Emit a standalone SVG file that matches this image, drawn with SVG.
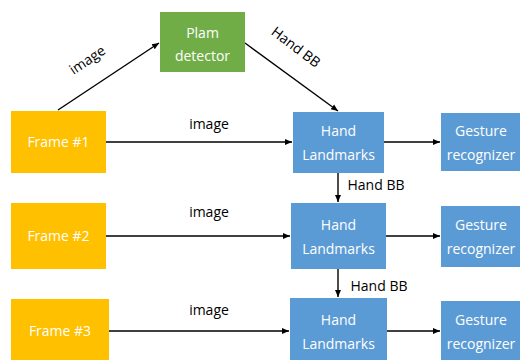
<svg xmlns="http://www.w3.org/2000/svg" width="520" height="360" viewBox="0 0 520 360">
  <defs>
    <marker id="arrow" markerWidth="8" markerHeight="8" refX="7" refY="4" orient="auto" markerUnits="userSpaceOnUse">
      <path d="M0,1 L7,4 L0,7 Z" fill="#000"/>
    </marker>
    <style>
      .frame { fill: #FFC000; }
      .plam { fill: #70AD47; }
      .blue { fill: #5B9BD5; }
      .box-text { font-family: "Open Sans", "Noto Sans", sans-serif; font-size: 14px; fill: #FFFFFF; text-anchor: middle; }
      .label { font-family: "Open Sans", "Noto Sans", sans-serif; font-size: 14px; fill: #000000; text-anchor: middle; }
      .edge { stroke: #000; stroke-width: 1.4; fill: none; marker-end: url(#arrow); }
    </style>
  </defs>
  <rect width="520" height="360" fill="#FFFFFF"/>

  <!-- connectors -->
  <g id="connectors">
    <line class="edge" x1="58" y1="110" x2="159" y2="43"/>
    <line class="edge" x1="245" y1="43" x2="338" y2="111"/>
    <line class="edge" x1="106" y1="142" x2="292" y2="142"/>
    <line class="edge" x1="384" y1="142" x2="440" y2="142"/>
    <line class="edge" x1="338" y1="173" x2="338" y2="202"/>
    <line class="edge" x1="106" y1="236" x2="290" y2="236"/>
    <line class="edge" x1="386" y1="236" x2="440" y2="236"/>
    <line class="edge" x1="338" y1="269" x2="338" y2="297"/>
    <line class="edge" x1="109" y1="331" x2="289" y2="331"/>
    <line class="edge" x1="387" y1="331" x2="440" y2="331"/>

    <text class="label" transform="translate(90,64) rotate(-34)">image</text>
    <text class="label" transform="translate(293,51) rotate(37)">Hand BB</text>
    <text class="label" x="209" y="129">image</text>
    <text class="label" x="209" y="217">image</text>
    <text class="label" x="209" y="315">image</text>
    <text class="label" x="376" y="190">Hand BB</text>
    <text class="label" x="379" y="291">Hand BB</text>
  </g>

  <!-- nodes -->
  <g id="plam-detector">
    <rect class="plam" x="160" y="12" width="85" height="60"/>
    <text class="box-text" x="202.5" y="38">Plam</text>
    <text class="box-text" x="202.5" y="61">detector</text>
  </g>

  <g id="frame-1">
    <rect class="frame" x="11" y="111" width="95" height="62"/>
    <text class="box-text" x="58.5" y="147">Frame #1</text>
  </g>
  <g id="frame-2">
    <rect class="frame" x="11" y="203" width="95" height="66"/>
    <text class="box-text" x="58.5" y="241">Frame #2</text>
  </g>
  <g id="frame-3">
    <rect class="frame" x="11" y="299" width="98" height="61"/>
    <text class="box-text" x="60" y="336">Frame #3</text>
  </g>

  <g id="hand-landmarks-1">
    <rect class="blue" x="293" y="112" width="91" height="61"/>
    <text class="box-text" x="338.5" y="136">Hand</text>
    <text class="box-text" x="338.5" y="160">Landmarks</text>
  </g>
  <g id="hand-landmarks-2">
    <rect class="blue" x="291" y="203" width="95" height="66"/>
    <text class="box-text" x="338.5" y="230">Hand</text>
    <text class="box-text" x="338.5" y="254">Landmarks</text>
  </g>
  <g id="hand-landmarks-3">
    <rect class="blue" x="290" y="298" width="97" height="62"/>
    <text class="box-text" x="338.5" y="325">Hand</text>
    <text class="box-text" x="338.5" y="349">Landmarks</text>
  </g>

  <g id="gesture-recognizer-1">
    <rect class="blue" x="441" y="113" width="79" height="58"/>
    <text class="box-text" x="481" y="136">Gesture</text>
    <text class="box-text" x="481" y="160">recognizer</text>
  </g>
  <g id="gesture-recognizer-2">
    <rect class="blue" x="441" y="206" width="79" height="61"/>
    <text class="box-text" x="481" y="230">Gesture</text>
    <text class="box-text" x="481" y="254">recognizer</text>
  </g>
  <g id="gesture-recognizer-3">
    <rect class="blue" x="441" y="301" width="79" height="59"/>
    <text class="box-text" x="481" y="325">Gesture</text>
    <text class="box-text" x="481" y="349">recognizer</text>
  </g>
</svg>
